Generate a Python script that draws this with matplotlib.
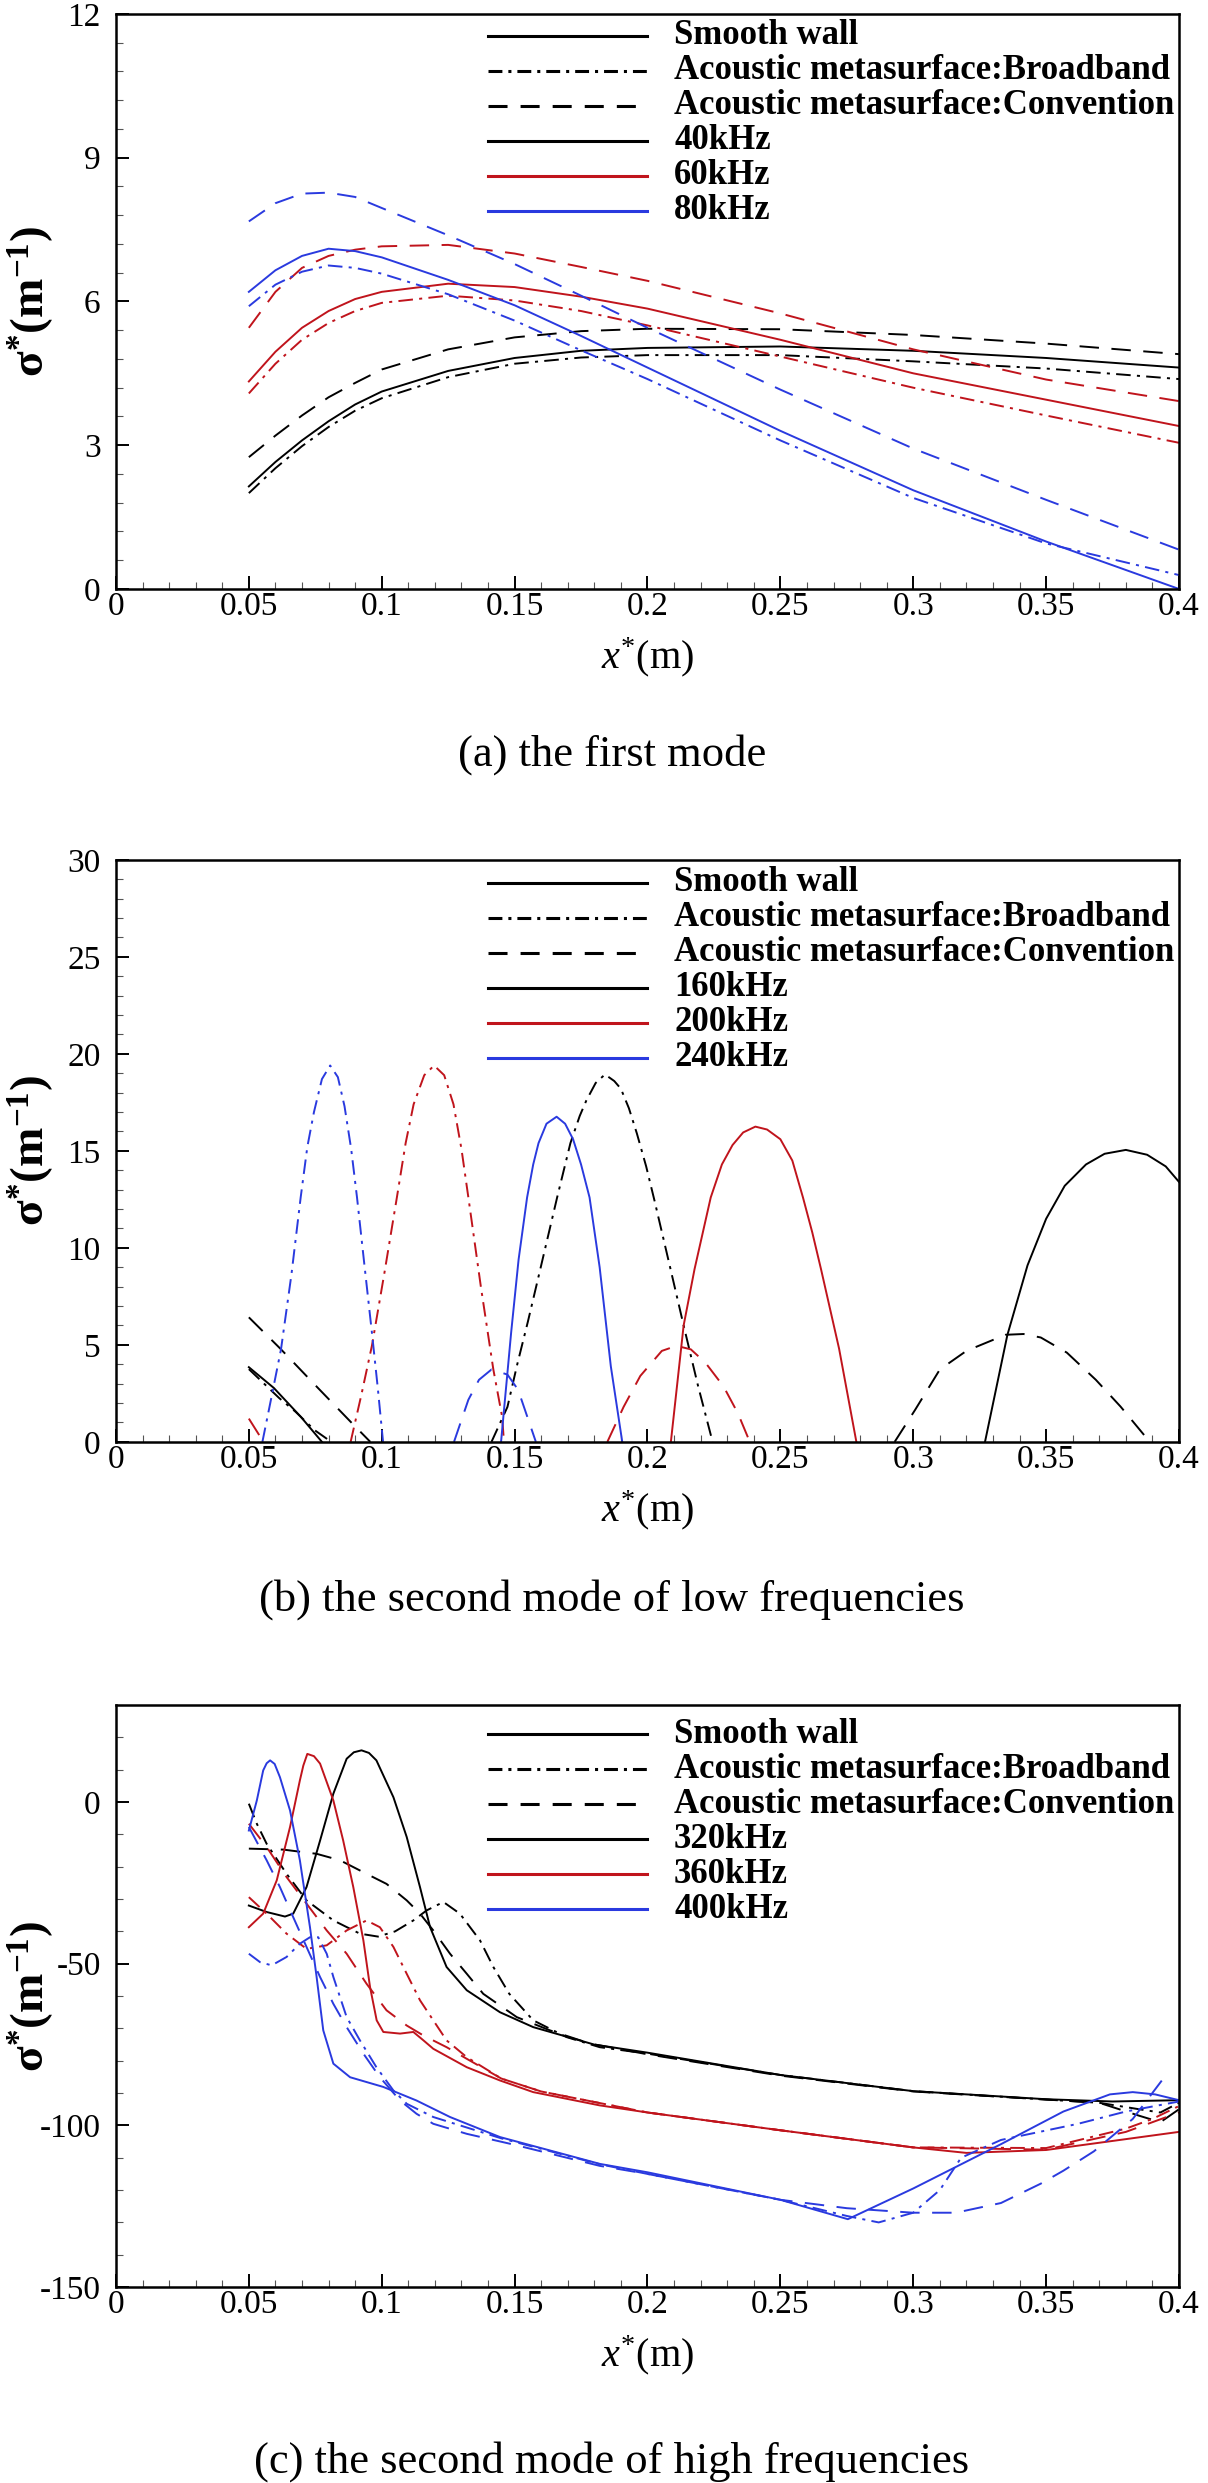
import matplotlib
matplotlib.use('Agg')
import matplotlib.pyplot as plt
import numpy as np
from matplotlib.ticker import MultipleLocator, FuncFormatter

nan = np.nan

# ---------------- (a) the first mode ----------------
a_x = [0.05, 0.06, 0.07, 0.08, 0.09, 0.1, 0.125, 0.15, 0.175, 0.2, 0.25, 0.3, 0.35, 0.4]
a_smooth_40 = [2.14, 2.65, 3.1, 3.5, 3.85, 4.12, 4.55, 4.82, 4.97, 5.03, 5.06, 4.97, 4.82, 4.62]
a_broad_40 = [2.0, 2.52, 2.98, 3.38, 3.72, 3.98, 4.42, 4.7, 4.83, 4.88, 4.88, 4.75, 4.6, 4.38]
a_conv_40 = [2.75, 3.2, 3.62, 4.0, 4.3, 4.58, 5.0, 5.25, 5.38, 5.43, 5.42, 5.3, 5.12, 4.9]
a_smooth_60 = [4.33, 4.95, 5.45, 5.8, 6.05, 6.2, 6.37, 6.3, 6.1, 5.85, 5.2, 4.5, 3.95, 3.4]
a_broad_60 = [4.08, 4.7, 5.2, 5.55, 5.8, 5.97, 6.12, 6.02, 5.8, 5.5, 4.85, 4.2, 3.62, 3.05]
a_conv_60 = [5.45, 6.2, 6.7, 6.95, 7.08, 7.15, 7.18, 7.0, 6.72, 6.43, 5.75, 5.0, 4.37, 3.92]
a_smooth_80 = [6.2, 6.65, 6.95, 7.1, 7.05, 6.92, 6.45, 5.92, 5.28, 4.62, 3.3, 2.06, 0.99, 0.0]
a_broad_80 = [5.9, 6.35, 6.62, 6.75, 6.7, 6.58, 6.15, 5.6, 4.98, 4.38, 3.1, 1.9, 0.95, 0.29]
a_conv_80 = [7.67, 8.05, 8.25, 8.27, 8.18, 7.95, 7.38, 6.78, 6.12, 5.45, 4.16, 2.93, 1.86, 0.82]

# ---------------- (b) the second mode, low frequencies ----------------
b_smooth_160_x = [0.05, 0.0594, 0.0695, 0.0775, nan,
                  0.327, 0.3354, 0.343, 0.35, 0.357, 0.365, 0.372, 0.38, 0.388, 0.395, 0.4]
b_smooth_160_y = [3.85, 2.78, 1.3, 0.0, nan,
                  0.0, 5.5, 9.1, 11.5, 13.2, 14.3, 14.85, 15.05, 14.8, 14.2, 13.4]
b_broad_160_x = [0.05, 0.0614, 0.0675, 0.0748, 0.081, nan,
                 0.1413, 0.1473, 0.151, 0.155, 0.16, 0.166, 0.171, 0.1745, 0.177, 0.1805,
                 0.184, 0.1875, 0.19, 0.193, 0.196, 0.1995, 0.2027, 0.208, 0.2136, 0.219, 0.2245]
b_broad_160_y = [3.75, 2.26, 1.56, 0.6, 0.0, nan,
                 0.0, 1.8, 4.0, 6.2, 9.1, 12.6, 15.4, 16.8, 17.6, 18.5,
                 18.94, 18.6, 18.2, 17.2, 15.9, 14.2, 12.4, 9.3, 6.0, 2.9, 0.0]
b_conv_160_x = [0.05, 0.0621, 0.0748, 0.0889, 0.0957, nan,
                0.293, 0.3007, 0.31, 0.32, 0.3347, 0.3415, 0.348, 0.3578, 0.3687, 0.378, 0.3864, 0.389]
b_conv_160_y = [6.42, 4.77, 2.95, 0.95, 0.0, nan,
                0.0, 1.65, 3.73, 4.69, 5.52, 5.56, 5.38, 4.6, 3.2, 1.82, 0.43, 0.0]
b_smooth_200_x = [0.2088, 0.2136, 0.2177, 0.2238, 0.228, 0.232, 0.236, 0.2406, 0.245, 0.25,
                  0.2545, 0.2585, 0.262, 0.2653, 0.2721, 0.2786]
b_smooth_200_y = [0.0, 6.0, 8.9, 12.6, 14.3, 15.3, 15.95, 16.25, 16.1, 15.6,
                  14.5, 12.6, 10.8, 8.9, 4.8, 0.0]
b_broad_200_x = [0.0883, 0.0923, 0.0963, 0.101, 0.1057, 0.109, 0.112, 0.116, 0.1197, 0.1235,
                 0.127, 0.13, 0.1326, 0.1373, 0.142, 0.1453, 0.146]
b_broad_200_y = [0.0, 2.4, 4.95, 8.7, 12.6, 15.4, 17.4, 18.9, 19.4, 18.9,
                 17.4, 15.1, 12.6, 8.0, 3.73, 1.3, 0.0]
b_conv_200_x = [0.05, 0.0555, nan,
                0.1849, 0.191, 0.1973, 0.2054, 0.2109, 0.2163, 0.2218, 0.2286, 0.234, 0.2385]
b_conv_200_y = [1.2, 0.0, nan,
                0.0, 1.8, 3.4, 4.69, 4.95, 4.77, 4.08, 2.86, 1.48, 0.0]
b_smooth_240_x = [0.1449, 0.1487, 0.1515, 0.1547, 0.157, 0.159, 0.162, 0.1658, 0.169, 0.172,
                  0.175, 0.1782, 0.182, 0.1862, 0.1905]
b_smooth_240_y = [0.0, 5.64, 9.4, 12.6, 14.3, 15.4, 16.4, 16.76, 16.4, 15.6,
                  14.3, 12.6, 9.0, 3.9, 0.0]
b_broad_240_x = [0.0551, 0.0585, 0.0621, 0.066, 0.0695, 0.072, 0.0745, 0.0775, 0.0806, 0.0835,
                 0.086, 0.0885, 0.0907, 0.0935, 0.0963, 0.0985, 0.1005]
b_broad_240_y = [0.0, 2.3, 4.77, 8.6, 12.6, 15.2, 17.0, 18.7, 19.4, 18.8,
                 17.3, 15.1, 12.6, 9.1, 5.64, 2.8, 0.0]
b_conv_240_x = [0.1272, 0.1326, 0.1366, 0.1413, 0.1473, 0.1513, 0.158]
b_conv_240_y = [0.0, 2.17, 3.2, 3.73, 3.47, 2.69, 0.0]

# ---------------- (c) the second mode, high frequencies ----------------
c_smooth_320_x = [0.05, 0.0567, 0.0636, 0.0667, 0.0717, 0.0768, 0.0818, 0.0868, 0.0895, 0.0924,
                  0.0952, 0.098, 0.1044, 0.1094, 0.1144, 0.1182, 0.1244, 0.132, 0.1445, 0.157,
                  0.18, 0.2, 0.25, 0.3, 0.35, 0.375, 0.4]
c_smooth_320_y = [-32, -34, -35.4, -34.5, -26.3, -11.9, 2.6, 13.4, 15.4, 16.0,
                  15.2, 12.9, 1.5, -10.8, -26.3, -38.7, -51, -58.2, -65, -69.6,
                  -75, -77.5, -84.4, -89.4, -91.9, -92.6, -92.2]
c_broad_320_x = [0.05, 0.053, 0.0567, 0.0642, 0.0717, 0.0818, 0.0918, 0.0986, 0.105, 0.1119,
                 0.1169, 0.1232, 0.1294, 0.137, 0.142, 0.148, 0.157, 0.1696, 0.182, 0.2,
                 0.25, 0.3, 0.35, 0.37, 0.385, 0.393, 0.4]
c_broad_320_y = [-0.5, -6.7, -12.9, -22.2, -30.4, -36.6, -40.7, -41.6, -40, -36.6,
                 -33.5, -30.9, -34.5, -42.8, -51, -59.3, -67.5, -72.7, -75.8, -77.8,
                 -84.4, -89.4, -92, -93, -95, -96, -93]
c_conv_320_x = [0.05, 0.063, 0.0755, 0.0843, 0.0943, 0.1018, 0.1094, 0.1144, 0.1194, 0.1257,
                0.132, 0.1382, 0.1508, 0.1633, 0.1784, 0.2, 0.25, 0.3, 0.35, 0.37,
                0.385, 0.393, 0.4]
c_conv_320_y = [-14.4, -14.7, -16, -18, -22.2, -25.3, -30.4, -34.5, -39.7, -46.9,
                -53.1, -59.3, -66.5, -70.6, -74.7, -78, -84.6, -89.5, -92, -93,
                -97, -99, -95]
c_smooth_360_x = [0.05, 0.0554, 0.0605, 0.0655, 0.0692, 0.0705, 0.072, 0.0745, 0.0768, 0.0818,
                  0.0855, 0.0893, 0.0931, 0.0956, 0.0981, 0.1006, 0.1069, 0.1119, 0.1157, 0.1194,
                  0.132, 0.1445, 0.157, 0.182, 0.2, 0.25, 0.3, 0.32, 0.35, 0.4]
c_smooth_360_y = [-38.7, -34.5, -24.2, -7.7, 6.7, 11.3, 14.9, 14.2, 11.9, 0.5,
                  -11.9, -26.3, -42.8, -57.2, -67.5, -71.1, -71.6, -71.1, -73.7, -76.3,
                  -82, -86.1, -89.7, -93.8, -96, -101.5, -106.8, -108.5, -107.6, -102]
c_broad_360_x = [0.05, 0.0567, 0.0642, 0.0717, 0.0793, 0.0868, 0.0943, 0.0993, 0.1044, 0.1094,
                 0.1144, 0.1194, 0.1244, 0.132, 0.145, 0.16, 0.2, 0.25, 0.3, 0.35,
                 0.38, 0.39, 0.4]
c_broad_360_y = [-29.4, -34.5, -40.7, -45.4, -44.3, -39.7, -36.6, -38.7, -44.8, -53.1,
                 -61.3, -67.5, -73.7, -78.9, -85.5, -89.5, -96, -101.5, -106.8, -107,
                 -101, -98, -94]
c_conv_360_x = [0.05, 0.0567, 0.0642, 0.0717, 0.0793, 0.0868, 0.0943, 0.1018, 0.1094, 0.1157,
                0.1244, 0.132, 0.145, 0.16, 0.2, 0.25, 0.3, 0.35, 0.38, 0.4]
c_conv_360_y = [-6.7, -13.9, -23.2, -31.4, -39.7, -46.9, -56.2, -64.4, -69.1, -72.2,
                -75.8, -79.4, -85.5, -89.5, -96, -101.5, -106.8, -107.5, -102, -96]
c_smooth_400_x = [0.05, 0.053, 0.0554, 0.0567, 0.058, 0.0597, 0.0617, 0.0655, 0.0692, 0.073,
                  0.0755, 0.078, 0.0818, 0.0881, 0.1006, 0.1131, 0.1257, 0.1445, 0.1821, 0.2,
                  0.25, 0.2754, 0.3, 0.333, 0.3565, 0.374, 0.3826, 0.391, 0.4]
c_smooth_400_y = [-8.8, 0.5, 9.8, 12.0, 12.9, 11.8, 7.7, -2.6, -18, -38.7,
                  -54.1, -70.6, -80.9, -85.1, -88.1, -92.3, -97.4, -103.6, -111.9, -114.5,
                  -123, -129, -119.5, -105.8, -95.7, -90.4, -89.7, -90.4, -92.2]
c_broad_400_x = [0.05, 0.0542, 0.0586, 0.0642, 0.0692, 0.073, 0.0761, 0.0793, 0.0818, 0.0868,
                 0.0918, 0.098, 0.1044, 0.1094, 0.1194, 0.145, 0.182, 0.2, 0.25, 0.275,
                 0.287, 0.3, 0.31, 0.318, 0.333, 0.362, 0.38, 0.4]
c_broad_400_y = [-46.9, -49.5, -50.5, -47.9, -43.8, -41.8, -41.8, -46.9, -54.1, -66.5,
                 -73.7, -82, -89.2, -93.3, -97.4, -104, -112, -115, -123, -128,
                 -130, -127, -120, -110, -104.5, -99.5, -95.7, -92.6]
c_conv_400_x = [0.05, 0.0567, 0.0617, 0.0667, 0.0717, 0.0768, 0.0818, 0.0868, 0.0931, 0.0993,
                0.1069, 0.1131, 0.1194, 0.132, 0.15, 0.182, 0.2, 0.25, 0.275, 0.3,
                0.316, 0.333, 0.348, 0.3565, 0.368, 0.3826, 0.394, 0.397]
c_conv_400_y = [-7.7, -18, -26.3, -35.6, -44.8, -54.1, -62.4, -69.6, -77.8, -85.1,
                -92.3, -96.4, -99.5, -102.6, -106, -112.5, -115, -123, -125.6, -127,
                -127, -124, -118, -114, -108, -98, -85.6, -84]

legend_base = ['Smooth wall', 'Acoustic metasurface:Broadband', 'Acoustic metasurface:Convention']
freqs_a = ['40kHz', '60kHz', '80kHz']
freqs_b = ['160kHz', '200kHz', '240kHz']
freqs_c = ['320kHz', '360kHz', '400kHz']
captions = ['(a) the first mode', '(b) the second mode of low frequencies',
            '(c) the second mode of high frequencies']

BLACK, RED, BLUE = 'black', '#c0141c', '#2a3adf'
COLORS = [BLACK, RED, BLUE]

plt.rcParams['font.family'] = 'Liberation Serif'
plt.rcParams['mathtext.fontset'] = 'custom'
plt.rcParams['mathtext.rm'] = 'Liberation Serif'
plt.rcParams['mathtext.it'] = 'Liberation Serif:italic'
plt.rcParams['mathtext.bf'] = 'Liberation Serif:bold'
plt.rcParams['axes.unicode_minus'] = False

LW = 1.4
LW_LEG = 2.2


def dash(pattern_pt, lw):
    # dash pattern given in points, converted to linewidth units
    return (0, tuple(p / lw for p in pattern_pt))


STYLES = {
    'smooth': '-',
    'broad': dash((10.5, 4.5, 2.2, 4.5), LW),
    'conv': dash((14, 9), LW),
}
LEG_STYLES = ['-', dash((10, 4.3, 2.2, 4.3), LW_LEG), dash((13.7, 9.4), LW_LEG)]


def draw_panel(ax, series, ylim, ymajor, yminor, freqs, h_px, leg_top):
    for (x, y, kind, color) in series:
        ax.plot(x, y, color=color, lw=LW, linestyle=STYLES[kind])

    ax.set_xlim(0, 0.4)
    ax.set_ylim(*ylim)
    ax.xaxis.set_major_locator(MultipleLocator(0.05))
    ax.xaxis.set_minor_locator(MultipleLocator(0.01))
    ax.yaxis.set_major_locator(MultipleLocator(ymajor))
    ax.yaxis.set_minor_locator(MultipleLocator(yminor))
    fmt = FuncFormatter(lambda v, p: f'{v:g}' if abs(v) > 1e-9 else '0')
    ax.xaxis.set_major_formatter(fmt)
    ax.yaxis.set_major_formatter(fmt)
    ax.tick_params(which='both', direction='in', top=False, right=False)
    ax.tick_params(which='major', length=9.5, width=1.4, labelsize=24)
    ax.tick_params(which='minor', length=5, width=0.8, color='#555555')
    ax.tick_params(axis='x', which='major', pad=2)
    ax.tick_params(axis='y', which='major', pad=11)
    for s in ax.spines.values():
        s.set_linewidth(1.8)

    # legend drawn by hand, Tecplot style
    labels = legend_base + freqs
    colors = [BLACK, BLACK, BLACK] + COLORS
    styles = LEG_STYLES + ['-', '-', '-']
    for i, (lab, col, ls) in enumerate(zip(labels, colors, styles)):
        yy = 1 - (leg_top + 35 * i) / h_px
        ax.plot([0.350, 0.4995], [yy, yy], transform=ax.transAxes,
                color=col, lw=LW_LEG, linestyle=ls)
        ax.text(0.525, yy, lab, transform=ax.transAxes, fontsize=25,
                fontweight='bold', va='center', ha='left')

    ax.text(-0.080, 0.5, r'$\mathbf{σ^{*}(m^{-1})}$', transform=ax.transAxes,
            rotation=90, ha='center', va='center', fontsize=34)
    ax.text(0.5, -68 / h_px, r'$x^{*}$(m)', transform=ax.transAxes,
            ha='center', va='center', fontsize=29)


fig = plt.figure(figsize=(12.08, 24.83), dpi=100)
ax_a = fig.add_axes([0.0960, 0.7628, 0.8800, 0.2316])
ax_b = fig.add_axes([0.0960, 0.4193, 0.8800, 0.2344])
ax_c = fig.add_axes([0.0960, 0.0789, 0.8800, 0.2344])

series_a = [
    (a_x, a_smooth_40, 'smooth', BLACK), (a_x, a_broad_40, 'broad', BLACK), (a_x, a_conv_40, 'conv', BLACK),
    (a_x, a_smooth_60, 'smooth', RED), (a_x, a_broad_60, 'broad', RED), (a_x, a_conv_60, 'conv', RED),
    (a_x, a_smooth_80, 'smooth', BLUE), (a_x, a_broad_80, 'broad', BLUE), (a_x, a_conv_80, 'conv', BLUE),
]
series_b = [
    (b_smooth_160_x, b_smooth_160_y, 'smooth', BLACK), (b_broad_160_x, b_broad_160_y, 'broad', BLACK),
    (b_conv_160_x, b_conv_160_y, 'conv', BLACK),
    (b_smooth_200_x, b_smooth_200_y, 'smooth', RED), (b_broad_200_x, b_broad_200_y, 'broad', RED),
    (b_conv_200_x, b_conv_200_y, 'conv', RED),
    (b_smooth_240_x, b_smooth_240_y, 'smooth', BLUE), (b_broad_240_x, b_broad_240_y, 'broad', BLUE),
    (b_conv_240_x, b_conv_240_y, 'conv', BLUE),
]
series_c = [
    (c_smooth_320_x, c_smooth_320_y, 'smooth', BLACK), (c_broad_320_x, c_broad_320_y, 'broad', BLACK),
    (c_conv_320_x, c_conv_320_y, 'conv', BLACK),
    (c_smooth_360_x, c_smooth_360_y, 'smooth', RED), (c_broad_360_x, c_broad_360_y, 'broad', RED),
    (c_conv_360_x, c_conv_360_y, 'conv', RED),
    (c_smooth_400_x, c_smooth_400_y, 'smooth', BLUE), (c_broad_400_x, c_broad_400_y, 'broad', BLUE),
    (c_conv_400_x, c_conv_400_y, 'conv', BLUE),
]

draw_panel(ax_a, series_a, (0, 12), 3, 0.6, freqs_a, 575, 22)
draw_panel(ax_b, series_b, (0, 30), 5, 1, freqs_b, 582, 23)
draw_panel(ax_c, series_c, (-150, 30), 50, 10, freqs_c, 582, 29)

for cap, ypx in zip(captions, [755, 1600, 2462]):
    fig.text(612 / 1208, 1 - ypx / 2483, cap, ha='center', va='center', fontsize=32)

fig.savefig('out.png', dpi=100)
